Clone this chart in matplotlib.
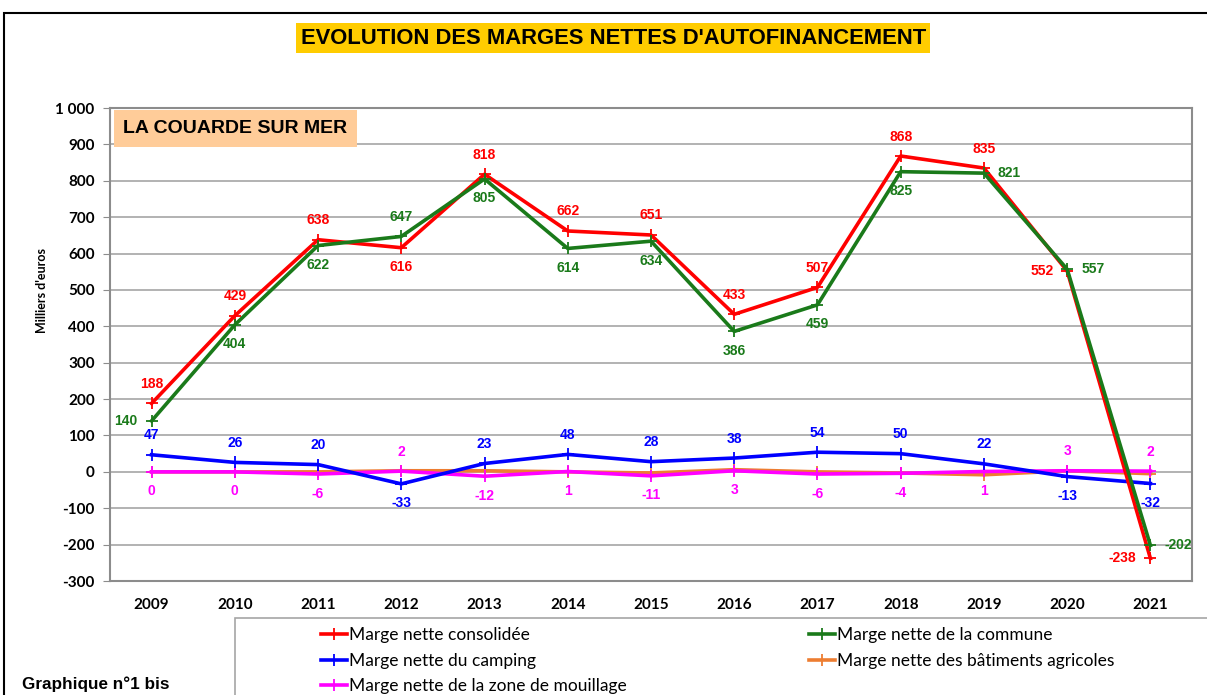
import matplotlib.pyplot as plt
from matplotlib.lines import Line2D
from matplotlib.patches import Rectangle
from matplotlib.ticker import FuncFormatter

years = ["2009", "2010", "2011", "2012", "2013", "2014", "2015",
         "2016", "2017", "2018", "2019", "2020", "2021"]

consolidee = [188, 429, 638, 616, 818, 662, 651, 433, 507, 868, 835, 552, -238]
commune = [140, 404, 622, 647, 805, 614, 634, 386, 459, 825, 821, 557, -202]
camping = [47, 26, 20, -33, 23, 48, 28, 38, 54, 50, 22, -13, -32]
agricoles = [0, 0, 0, 3, 3, 0, -3, 6, 0, -3, -8, 3, -5]
mouillage = [0, 0, -6, 2, -12, 1, -11, 3, -6, -4, 1, 3, 2]

# where each value label sits: a=above, b=below, l=left, r=right
pos_consolidee = "aaabaaaaaaall"
pos_commune = "lbbabbbbbbrrr"
pos_camping = "aaabaaaaaaabb"
pos_mouillage = "bbbabbbbbbbaa"

RED = "#FF0000"
GREEN = "#1A7A1A"
BLUE = "#0000FF"
ORANGE = "#ED7D31"
PINK = "#FF00FF"

fig = plt.figure(figsize=(12.07, 6.95), dpi=100)
ax = fig.add_axes([0.0911, 0.164, 0.8965, 0.6806])

x = list(range(len(years)))
series = [
    (consolidee, RED, "Marge nette consolidée"),
    (commune, GREEN, "Marge nette de la commune"),
    (camping, BLUE, "Marge nette du camping"),
    (agricoles, ORANGE, "Marge nette des bâtiments agricoles"),
    (mouillage, PINK, "Marge nette de la zone de mouillage"),
]
# draw order: orange under pink, blue, then red, green on top
handles = {}
for vals, col, lab in [series[3], series[4], series[2], series[0], series[1]]:
    h, = ax.plot(x, vals, color=col, lw=2.6, marker="+", ms=9, mew=1.3,
                 label=lab, zorder=3)
    handles[lab] = h

offs = {"a": (0, 9, "center", "bottom"), "b": (0, -9, "center", "top"),
        "l": (-10, 0, "right", "center"), "r": (10, 0, "left", "center")}


def label_series(vals, col, pos):
    for i, v in enumerate(vals):
        dx, dy, ha, va = offs[pos[i]]
        ax.annotate(str(v), (i, v), xytext=(dx, dy), textcoords="offset points",
                    ha=ha, va=va, color=col, fontsize=10, fontweight="bold",
                    family="Liberation Sans", zorder=5)


label_series(consolidee, RED, pos_consolidee)
label_series(commune, GREEN, pos_commune)
label_series(camping, BLUE, pos_camping)
label_series(mouillage, PINK, pos_mouillage)

ax.set_xlim(-0.5, len(years) - 0.5)
ax.set_ylim(-300, 1000)
ax.set_yticks(range(-300, 1001, 100))
ax.yaxis.set_major_formatter(FuncFormatter(lambda v, p: f"{int(v):,}".replace(",", " ")))
ax.set_xticks(x)
ax.set_xticklabels(years)
ax.grid(axis="y", color="#A6A6A6", lw=1.2)
ax.set_axisbelow(True)
for s in ax.spines.values():
    s.set_color("#8C8C8C")
    s.set_linewidth(1.5)
ax.tick_params(axis="y", length=5, color="#8C8C8C", pad=6)
ax.tick_params(axis="x", length=0, pad=12)
for t in ax.get_xticklabels() + ax.get_yticklabels():
    t.set_family("Lato")
    t.set_fontweight("bold")
    t.set_fontsize(11)
ax.set_ylabel("Milliers d'euros", fontsize=9, family="Lato", fontweight="bold")
ax.yaxis.set_label_coords(-0.057, 0.615)

# boxes with titles
fig.text(0.508, 0.945, "EVOLUTION DES MARGES NETTES D'AUTOFINANCEMENT",
         ha="center", va="center", fontsize=15.8, fontweight="bold",
         family="Liberation Sans",
         bbox=dict(boxstyle="square,pad=0.2", fc="#FFCC00", ec="none"))
ax.text(0.0125, 0.975, "LA COUARDE SUR MER", transform=ax.transAxes,
        ha="left", va="top", fontsize=14, fontweight="bold",
        family="Liberation Sans",
        bbox=dict(boxstyle="square,pad=0.5", fc="#FFCC99", ec="none"))

# outer frame and legend frame
fig.patches.append(Rectangle((0.0035, -0.01), 1.0, 0.992, transform=fig.transFigure,
                             fill=False, ec="black", lw=1.5))
fig.patches.append(Rectangle((0.195, -0.01), 0.81, 0.121, transform=fig.transFigure,
                             fill=False, ec="#A6A6A6", lw=1.2))

order = ["Marge nette consolidée", "Marge nette du camping",
         "Marge nette de la zone de mouillage", "Marge nette de la commune",
         "Marge nette des bâtiments agricoles"]
leg_handles = [Line2D([], [], color=handles[k].get_color(), lw=2.6, marker="+",
                      ms=9, mew=1.3) for k in order]
fig.legend(leg_handles, order, loc="upper left", bbox_to_anchor=(0.253, 0.12),
           ncol=2, frameon=False, handlelength=1.5, handletextpad=0.1,
           columnspacing=10.5, labelspacing=0.55,
           prop={"family": "Lato", "size": 12.5})

fig.text(0.018, 0.015, "Graphique n°1 bis", ha="left", va="center",
         fontsize=12.3, fontweight="bold", family="Liberation Sans")

fig.savefig("out.png", dpi=100)
